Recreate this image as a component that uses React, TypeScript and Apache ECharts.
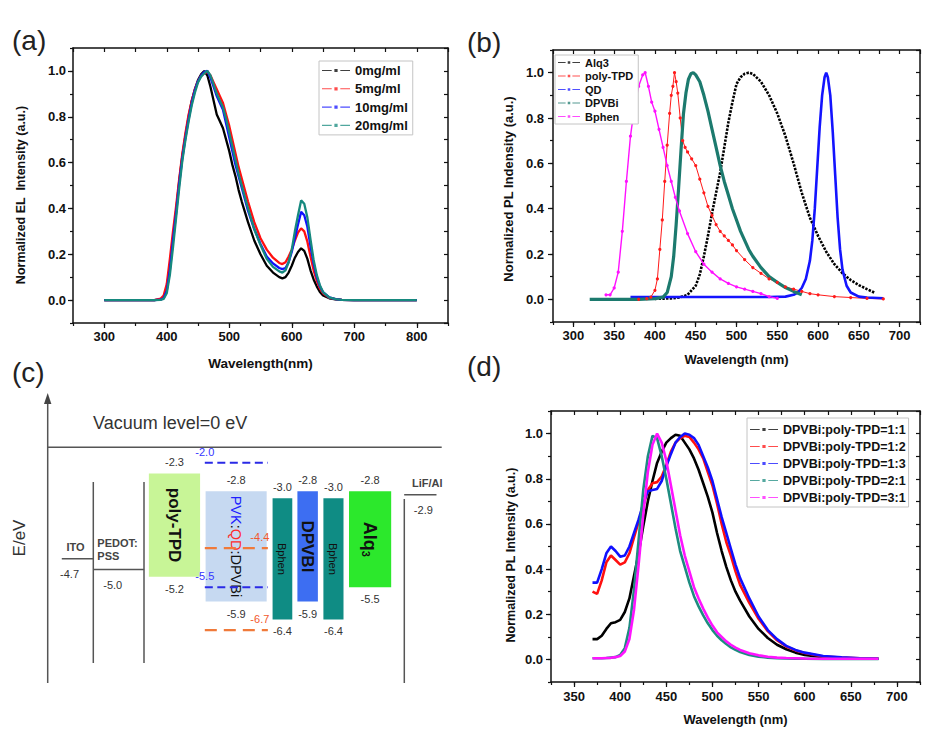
import React, { useEffect, useRef } from 'react';
import * as echarts from 'echarts';

const FONT = 'Liberation Sans, Arial, Helvetica, sans-serif';

// ---------------- (a) EL spectra ----------------
const elNames = ['0mg/ml', '5mg/ml', '10mg/ml', '20mg/ml'];
const elWave = [300, 380, 390, 395, 400, 405, 410, 415, 420, 425, 430, 435, 440, 445, 450, 455, 460, 465, 470, 475, 480, 485, 490, 495, 500, 505, 510, 515, 520, 525, 530, 540, 550, 560, 570, 580, 585, 590, 595, 600, 605, 610, 615, 620, 625, 630, 635, 640, 645, 650, 660, 670, 680, 700, 800];
const el0 = [0, 0, 0.003, 0.01, 0.05, 0.15, 0.27, 0.39, 0.52, 0.63, 0.72, 0.8, 0.87, 0.92, 0.96, 0.985, 1.0, 0.98, 0.93, 0.87, 0.81, 0.78, 0.75, 0.7, 0.65, 0.59, 0.54, 0.48, 0.43, 0.385, 0.34, 0.26, 0.2, 0.15, 0.12, 0.1, 0.095, 0.1, 0.12, 0.15, 0.185, 0.21, 0.226, 0.215, 0.18, 0.13, 0.09, 0.06, 0.035, 0.02, 0.008, 0.003, 0.001, 0, 0];
const el5 = [0, 0, 0.006, 0.02, 0.07, 0.18, 0.3, 0.41, 0.53, 0.64, 0.73, 0.81, 0.87, 0.92, 0.955, 0.98, 0.99, 0.995, 0.98, 0.95, 0.92, 0.89, 0.86, 0.81, 0.76, 0.7, 0.64, 0.58, 0.53, 0.48, 0.43, 0.34, 0.27, 0.22, 0.185, 0.162, 0.157, 0.165, 0.19, 0.22, 0.26, 0.295, 0.313, 0.3, 0.255, 0.19, 0.13, 0.085, 0.05, 0.03, 0.01, 0.004, 0.001, 0, 0];
const el10 = [0, 0, 0.002, 0.008, 0.04, 0.13, 0.26, 0.38, 0.51, 0.62, 0.71, 0.79, 0.86, 0.915, 0.955, 0.98, 0.995, 1.0, 0.97, 0.93, 0.89, 0.86, 0.83, 0.77, 0.71, 0.65, 0.59, 0.54, 0.49, 0.44, 0.39, 0.31, 0.245, 0.19, 0.16, 0.14, 0.135, 0.14, 0.165, 0.21, 0.27, 0.33, 0.385, 0.37, 0.32, 0.235, 0.16, 0.1, 0.06, 0.035, 0.012, 0.004, 0.001, 0, 0];
const el20 = [0, 0, 0.001, 0.005, 0.03, 0.11, 0.23, 0.36, 0.49, 0.61, 0.7, 0.78, 0.85, 0.905, 0.95, 0.975, 0.99, 1.0, 0.98, 0.94, 0.9, 0.87, 0.84, 0.79, 0.73, 0.67, 0.61, 0.55, 0.5, 0.45, 0.4, 0.31, 0.24, 0.18, 0.145, 0.125, 0.12, 0.13, 0.165, 0.22, 0.3, 0.37, 0.435, 0.42, 0.36, 0.265, 0.175, 0.11, 0.065, 0.035, 0.012, 0.004, 0.001, 0, 0];

// ---------------- (b) PL of single materials ----------------
const plNames = ['Alq3', 'poly-TPD', 'QD', 'DPVBi', 'Bphen'];
const alqWave = [400, 420, 430, 440, 450, 455, 460, 465, 470, 475, 480, 485, 490, 495, 500, 505, 510, 515, 520, 530, 540, 550, 560, 570, 580, 590, 600, 610, 620, 630, 640, 650, 660, 670];
const alqPL = [0.002, 0.004, 0.008, 0.02, 0.06, 0.11, 0.19, 0.28, 0.38, 0.47, 0.56, 0.67, 0.78, 0.87, 0.95, 0.98, 0.995, 1.0, 0.995, 0.96, 0.9, 0.82, 0.72, 0.6, 0.47, 0.36, 0.28, 0.21, 0.155, 0.115, 0.085, 0.063, 0.045, 0.028];
const ptWave = [380, 390, 395, 400, 403, 406, 409, 412, 415, 418, 420, 422, 424, 426, 428, 431, 434, 437, 440, 445, 450, 455, 460, 465, 470, 475, 480, 485, 490, 495, 500, 510, 520, 530, 540, 550, 560, 570, 580, 590, 600, 620, 640, 660, 680];
const ptPL = [0, 0.003, 0.01, 0.04, 0.09, 0.22, 0.35, 0.52, 0.68, 0.82, 0.9, 0.94, 1.0, 0.96, 0.91, 0.8, 0.7, 0.67, 0.65, 0.62, 0.59, 0.53, 0.47, 0.41, 0.37, 0.33, 0.3, 0.28, 0.26, 0.24, 0.215, 0.175, 0.14, 0.115, 0.09, 0.075, 0.055, 0.045, 0.035, 0.025, 0.02, 0.012, 0.008, 0.004, 0.002];
const qdWave = [370, 400, 450, 500, 540, 560, 570, 575, 580, 585, 590, 593, 596, 599, 602, 605, 608, 610, 612, 615, 618, 621, 624, 627, 630, 635, 640, 650, 660, 680];
const qdPL = [0.01, 0.01, 0.01, 0.01, 0.01, 0.012, 0.02, 0.03, 0.05, 0.09, 0.17, 0.26, 0.4, 0.58, 0.76, 0.9, 0.98, 1.0, 0.98, 0.9, 0.74, 0.55, 0.36, 0.22, 0.13, 0.06, 0.03, 0.012, 0.008, 0.005];
const dpWave = [320, 380, 400, 410, 415, 420, 423, 426, 429, 432, 435, 438, 441, 444, 447, 450, 455, 460, 465, 470, 475, 480, 485, 490, 495, 500, 505, 510, 515, 520, 530, 540, 550, 560, 570, 580];
const dpPL = [0, 0, 0.003, 0.01, 0.03, 0.1, 0.19, 0.33, 0.49, 0.66, 0.82, 0.91, 0.97, 0.995, 1.0, 0.99, 0.96, 0.9, 0.83, 0.75, 0.67, 0.59, 0.52, 0.46, 0.4, 0.35, 0.3, 0.26, 0.22, 0.19, 0.14, 0.1, 0.075, 0.052, 0.035, 0.02];
const bpWave = [340, 345, 350, 355, 360, 365, 370, 375, 380, 385, 388, 392, 396, 400, 405, 410, 415, 420, 425, 430, 440, 450, 460, 470, 480, 490, 500, 510, 520, 530, 540, 550];
const bpPL = [0.02, 0.02, 0.05, 0.12, 0.3, 0.52, 0.72, 0.85, 0.94, 0.99, 1.0, 0.94, 0.87, 0.83, 0.75, 0.67, 0.59, 0.52, 0.45, 0.39, 0.29, 0.21, 0.155, 0.12, 0.09, 0.07, 0.055, 0.045, 0.035, 0.025, 0.012, 0.004];

// ---------------- (c) energy levels (eV) ----------------
const layerNames = ['poly-TPD', 'PVK:QD:DPVBi', 'Bphen', 'DPVBI', 'Bphen', 'Alq3'];
const layerLumo = [-2.3, -2.8, -3.0, -2.8, -3.0, -2.8];
const layerHomo = [-5.2, -5.9, -6.4, -5.9, -6.4, -5.5];
const pvkLevels = [-2.0, -5.5];
const qdLevels = [-4.4, -6.7];
const electrodeNames = ['ITO', 'PEDOT:PSS', 'LiF/Al'];
const workFunctions = [-4.7, -5.0, -2.9];

// ---------------- (d) PL of blends ----------------
const blendNames = ['DPVBi:poly-TPD=1:1', 'DPVBi:poly-TPD=1:2', 'DPVBi:poly-TPD=1:3', 'DPVBi:poly-TPD=2:1', 'DPVBi:poly-TPD=3:1'];
const blendWave = [370, 375, 380, 385, 390, 395, 400, 405, 410, 415, 420, 425, 430, 435, 440, 445, 450, 455, 460, 465, 470, 475, 480, 485, 490, 495, 500, 505, 510, 515, 520, 525, 530, 540, 550, 560, 570, 580, 590, 600, 620, 640, 660, 680];
const blend11 = [0.09, 0.09, 0.105, 0.135, 0.16, 0.165, 0.175, 0.21, 0.27, 0.37, 0.47, 0.59, 0.7, 0.79, 0.87, 0.92, 0.96, 0.98, 0.995, 0.99, 0.96, 0.93, 0.89, 0.84, 0.78, 0.72, 0.65, 0.56, 0.48, 0.41, 0.35, 0.3, 0.26, 0.19, 0.135, 0.095, 0.065, 0.045, 0.03, 0.02, 0.01, 0.006, 0.004, 0.003];
const blend12 = [0.3, 0.29, 0.35, 0.43, 0.46, 0.44, 0.42, 0.43, 0.47, 0.54, 0.61, 0.68, 0.75, 0.78, 0.785, 0.81, 0.86, 0.92, 0.96, 0.98, 0.99, 0.985, 0.96, 0.93, 0.89, 0.83, 0.77, 0.69, 0.6, 0.52, 0.46, 0.39, 0.33, 0.25, 0.18, 0.125, 0.085, 0.057, 0.04, 0.028, 0.013, 0.008, 0.005, 0.003];
const blend13 = [0.34, 0.34, 0.4, 0.47, 0.5, 0.48, 0.455, 0.46, 0.5, 0.56, 0.62, 0.69, 0.745, 0.75, 0.755, 0.79, 0.855, 0.91, 0.96, 0.985, 1.0, 0.995, 0.98, 0.95, 0.9, 0.85, 0.79, 0.71, 0.63, 0.56, 0.49, 0.42, 0.36, 0.27, 0.19, 0.13, 0.09, 0.06, 0.042, 0.03, 0.015, 0.009, 0.005, 0.003];
const blend21 = [0.005, 0.005, 0.005, 0.006, 0.008, 0.01, 0.02, 0.05, 0.14, 0.31, 0.53, 0.75, 0.9, 0.99, 0.98, 0.9, 0.8, 0.69, 0.58, 0.48, 0.41, 0.34, 0.28, 0.235, 0.195, 0.16, 0.13, 0.105, 0.085, 0.068, 0.053, 0.042, 0.033, 0.02, 0.012, 0.008, 0.005, 0.004, 0.003, 0.003, 0.002, 0.002, 0.002, 0.002];
const blend31 = [0.005, 0.005, 0.005, 0.006, 0.007, 0.01, 0.015, 0.035, 0.09, 0.22, 0.42, 0.64, 0.83, 0.95, 1.0, 0.96, 0.88, 0.77, 0.66, 0.55, 0.46, 0.39, 0.32, 0.27, 0.225, 0.185, 0.15, 0.12, 0.1, 0.08, 0.065, 0.052, 0.042, 0.027, 0.018, 0.012, 0.008, 0.006, 0.005, 0.004, 0.003, 0.003, 0.003, 0.003];

// ---------------- layout / style (not data) ----------------
const layerSpan = [[25.6, 38.6], [40, 55.5], [57, 62], [63.3, 68.5], [69.9, 75], [76.4, 87.1]];
const layerFill = ['#c8f597', '#c6d9f1', '#0f8c84', '#3d6ef2', '#0f8c84', '#2ce82c'];
const layerNameSize = [17, 14.5, 11, 17, 11, 18];
const layerNameWeight = ['bold', 'normal', 'normal', 'bold', 'normal', 'bold'];
const dashSpan = [39.8, 55.8];
const electrodeSpan = [[3.5, 11.5], [11.5, 24.4], [90.4, 98.6]];
const electrodeValueDx = [-8, -6, 3];
const electrodeNameDx = [-2, 0, 7];

const pairs = (w: number[], v: number[]) => w.map((x, i) => [x, v[i]]);
const steps = (a: number, b: number, s: number) => {
  const r: number[] = [];
  for (let v = a; v <= b + 1e-9; v += s) r.push(+v.toFixed(6));
  return r;
};

type Spec = {
  min: number; max: number; interval: number; majors: number[]; digits: number;
  fontSize: number; margin: number; name: string; nameGap: number; nameSize: number; nameShift?: number;
};

function gridAxes(g: number, xs: Spec, ys: Spec) {
  const axisLine = { show: true, onZero: false, lineStyle: { color: '#111', width: 1.5 } };
  const tickStyle = { color: '#111', width: 1.2 };
  const isMajor = (m: number[], v: number) => m.some((t) => Math.abs(t - v) < 1e-6);
  const label = (s: Spec) => ({
    show: true, customValues: s.majors, fontFamily: FONT, fontWeight: 'bold', fontSize: s.fontSize,
    color: '#111', margin: s.margin,
    formatter: (v: number) => (isMajor(s.majors, v) ? v.toFixed(s.digits) : ''),
  });
  const nameStyle = (s: Spec) => ({
    fontFamily: FONT, fontWeight: 'bold', fontSize: s.nameSize, color: '#111',
    padding: s.nameShift ? [0, 2 * s.nameShift, 0, 0] : 0,
  });
  const base = (s: Spec) => ({ type: 'value', gridIndex: g, min: s.min, max: s.max, interval: s.interval, splitLine: { show: false } });
  const xAxis = [
    {
      ...base(xs), position: 'bottom', axisLine,
      axisTick: { show: true, inside: false, length: 5, customValues: xs.majors, lineStyle: tickStyle },
      axisLabel: label(xs), name: xs.name, nameLocation: 'middle', nameGap: xs.nameGap, nameTextStyle: nameStyle(xs),
    },
    { ...base(xs), position: 'bottom', axisLine: { show: false, onZero: false }, axisTick: { show: true, length: 3, lineStyle: tickStyle }, axisLabel: { show: false } },
    { ...base(xs), position: 'top', axisLine, axisTick: { show: true, inside: true, length: 4, lineStyle: tickStyle }, axisLabel: { show: false } },
  ];
  const yAxis = [
    {
      ...base(ys), position: 'left', axisLine,
      axisTick: { show: true, inside: false, length: 5, customValues: ys.majors, lineStyle: tickStyle },
      axisLabel: label(ys), name: ys.name, nameLocation: 'middle', nameGap: ys.nameGap, nameRotate: 90, nameTextStyle: nameStyle(ys),
    },
    { ...base(ys), position: 'left', axisLine: { show: false, onZero: false }, axisTick: { show: true, length: 3, lineStyle: tickStyle }, axisLabel: { show: false } },
    { ...base(ys), position: 'right', axisLine, axisTick: { show: true, inside: true, length: 4, lineStyle: tickStyle }, axisLabel: { show: false } },
  ];
  return { xAxis, yAxis };
}

const yMajors = steps(0, 1, 0.2);
const yBase = { min: -0.1, max: 1.1, interval: 0.1, majors: yMajors, digits: 1, fontSize: 13, nameSize: 12.5 };

const axA = gridAxes(
  0,
  { min: 250, max: 850, interval: 50, majors: steps(300, 800, 100), digits: 0, fontSize: 13, margin: 7, name: 'Wavelength(nm)', nameGap: 33, nameSize: 13.5 },
  { ...yBase, margin: 7, name: 'Normalized EL  Intensity (a.u.)', nameGap: 46, nameShift: 9.5 }
);
const axB = gridAxes(
  1,
  { min: 275, max: 725, interval: 25, majors: steps(300, 700, 50), digits: 0, fontSize: 13, margin: 7, name: 'Wavelength (nm)', nameGap: 31, nameSize: 13 },
  { ...yBase, margin: 9, name: 'Normalized PL Indensity (a.u.)', nameGap: 38, nameSize: 13, nameShift: 3 }
);
const axD = gridAxes(
  3,
  { min: 325, max: 725, interval: 25, majors: steps(350, 700, 50), digits: 0, fontSize: 13, margin: 8, name: 'Wavelength (nm)', nameGap: 31, nameSize: 13 },
  { ...yBase, margin: 8, name: 'Normalized PL Intensity (a.u.)', nameGap: 34, nameShift: 8.5 }
);

// axis indices: a 0..2, b 3..5, c 6, d 7..9
const legendIcon = 'path://M0,1h9v1h-9z M11.5,0h3v3h-3z M17,1h9v1h-9z';

function legendBox(names: string[], left: number, top: number, fontSize: number, gap: number, itemWidth: number, padding: number[]) {
  return {
    data: names, orient: 'vertical', left, top, padding, itemGap: gap, itemWidth, itemHeight: 8,
    icon: legendIcon, itemStyle: { opacity: 0.75 }, selectedMode: false,
    borderColor: '#c4c4c4', borderWidth: 1, backgroundColor: '#fff', borderRadius: 0,
    textStyle: { fontFamily: FONT, fontWeight: 'bold', fontSize, color: '#111', padding: [0, 0, 0, 0] },
  };
}

function lineSeries(name: string, xi: number, data: number[][], color: string, width: number, extra: any = {}) {
  return {
    type: 'line', name, xAxisIndex: xi, yAxisIndex: xi, data, color,
    showSymbol: false, symbol: 'circle', symbolSize: 3, silent: true,
    lineStyle: { color, width }, itemStyle: { color }, ...extra,
  };
}

// ---------------- (c) renderers ----------------
function t(x: number, y: number, text: string, extra: any = {}, rotation = 0) {
  const st = {
    text, fontFamily: FONT, fontSize: 11, fill: '#333', align: 'center', verticalAlign: 'middle',
    textAlign: 'center', textVerticalAlign: 'middle', ...extra,
  };
  if (st.align !== 'center') st.textAlign = st.align;
  if (st.verticalAlign !== 'middle') st.textVerticalAlign = st.verticalAlign;
  return { type: 'text', x, y, rotation, style: st };
}

function richName(name: string) {
  if (name === 'PVK:QD:DPVBi') return '{b|PVK}:{r|QD}:DPVBi';
  if (name === 'Alq3') return 'Alq{s|3}';
  return name;
}

function renderLayer(params: any, api: any) {
  const i = params.dataIndex;
  const p0 = api.coord([api.value(0), api.value(2)]);
  const p1 = api.coord([api.value(1), api.value(3)]);
  const cx = (p0[0] + p1[0]) / 2;
  const cy = (p0[1] + p1[1]) / 2;
  const size = layerNameSize[i];
  return {
    type: 'group',
    children: [
      { type: 'rect', shape: { x: p0[0], y: p0[1], width: p1[0] - p0[0], height: p1[1] - p0[1] }, style: { fill: layerFill[i] } },
      t(cx, p0[1] - 11, api.value(2).toFixed(1)),
      t(cx, p1[1] + 12, api.value(3).toFixed(1)),
      t(cx, cy, richName(layerNames[i]), {
        fontSize: size, fontWeight: layerNameWeight[i], fill: '#111',
        rich: {
          b: { fill: '#2020ff', fontSize: size, fontFamily: FONT },
          r: { fill: '#ff2a2a', fontSize: size, fontFamily: FONT },
          s: { fill: '#111', fontSize: 11, fontWeight: 'bold', fontFamily: FONT, padding: [8, 0, 0, 0] },
        },
      }, -Math.PI / 2),
    ],
  };
}

function renderLevel(params: any, api: any) {
  const kind = api.value(3);
  const p0 = api.coord([api.value(0), api.value(2)]);
  const p1 = api.coord([api.value(1), api.value(2)]);
  const blue = kind === 0;
  const color = blue ? '#2a2ae6' : '#f07a3a';
  const labelColor = blue ? '#3535ff' : '#f2582c';
  const lx = blue ? p0[0] : p1[0] - 8;
  return {
    type: 'group',
    children: [
      {
        type: 'line', shape: { x1: p0[0], y1: p0[1], x2: p1[0], y2: p1[1] },
        style: { stroke: color, lineWidth: blue ? 2 : 2.2, lineDash: blue ? [8, 4.5] : [12, 7] },
      },
      t(lx, p0[1] - 11, api.value(2).toFixed(1), { fill: labelColor }),
    ],
  };
}

function renderElectrode(params: any, api: any) {
  const i = params.dataIndex;
  const p0 = api.coord([api.value(0), api.value(2)]);
  const p1 = api.coord([api.value(1), api.value(2)]);
  const cx = (p0[0] + p1[0]) / 2;
  const name = electrodeNames[i];
  const nameEl = name === 'PEDOT:PSS'
    ? t(p0[0] + 4, p0[1] - 7, 'PEDOT:\nPSS', { align: 'left', verticalAlign: 'bottom', fontWeight: 'bold', fill: '#444', lineHeight: 13 })
    : t(cx + electrodeNameDx[i], p0[1] - 12, name, { fontWeight: 'bold', fill: '#444' });
  return {
    type: 'group',
    children: [
      { type: 'line', shape: { x1: p0[0], y1: p0[1], x2: p1[0], y2: p1[1] }, style: { stroke: '#555', lineWidth: 1.5 } },
      nameEl,
      t(cx + electrodeValueDx[i], p0[1] + 15, api.value(2).toFixed(1)),
    ],
  };
}

function buildOption() {
  const grids = [
    { left: 73, top: 48, width: 375, height: 275 },
    { left: 553, top: 50, width: 367, height: 272 },
    { left: 48, top: 448.5, width: 394, height: 213.6 },
    { left: 551, top: 411, width: 369, height: 271 },
  ];
  const xAxis = [
    ...axA.xAxis, ...axB.xAxis,
    { type: 'value', gridIndex: 2, min: 0, max: 100, show: false },
    ...axD.xAxis,
  ];
  const yAxis = [
    ...axA.yAxis, ...axB.yAxis,
    { type: 'value', gridIndex: 2, min: -7.6, max: -1.6, show: false },
    ...axD.yAxis,
  ];

  const elColors = ['#000000', '#ff1010', '#1010ff', '#16897e'];
  const elData = [el0, el5, el10, el20];
  const plColors = ['#000000', '#ff1a1a', '#1414ff', '#1c7a6e', '#ff10ff'];
  const blendColors = ['#000000', '#ff1010', '#1010ff', '#1e8c80', '#ff14ff'];
  const blendData = [blend11, blend12, blend13, blend21, blend31];

  const series: any[] = [];
  elNames.forEach((n, i) => series.push(lineSeries(n, 0, pairs(elWave, elData[i]), elColors[i], 2.3)));

  series.push(lineSeries(plNames[0], 3, pairs(alqWave, alqPL), plColors[0], 2.6, { lineStyle: { color: plColors[0], width: 2.6, type: [2.4, 1.3] } }));
  series.push(lineSeries(plNames[1], 3, pairs(ptWave, ptPL), plColors[1], 1, { showSymbol: true, symbolSize: 3.2 }));
  series.push(lineSeries(plNames[2], 3, pairs(qdWave, qdPL), plColors[2], 2.6));
  series.push(lineSeries(plNames[3], 3, pairs(dpWave, dpPL), plColors[3], 3.2));
  series.push(lineSeries(plNames[4], 3, pairs(bpWave, bpPL), plColors[4], 1.4, { showSymbol: true, symbolSize: 3.2 }));

  blendNames.forEach((n, i) => series.push(lineSeries(n, 7, pairs(blendWave, blendData[i]), blendColors[i], 2.6)));

  series.push({
    type: 'custom', name: 'layers', xAxisIndex: 6, yAxisIndex: 6, silent: true,
    data: layerNames.map((_, i) => [layerSpan[i][0], layerSpan[i][1], layerLumo[i], layerHomo[i]]),
    renderItem: renderLayer,
  });
  series.push({
    type: 'custom', name: 'levels', xAxisIndex: 6, yAxisIndex: 6, silent: true, z: 3,
    data: [
      ...pvkLevels.map((e) => [dashSpan[0], dashSpan[1], e, 0]),
      ...qdLevels.map((e) => [dashSpan[0], dashSpan[1], e, 1]),
    ],
    renderItem: renderLevel,
  });
  series.push({
    type: 'custom', name: 'electrodes', xAxisIndex: 6, yAxisIndex: 6, silent: true,
    data: electrodeNames.map((_, i) => [electrodeSpan[i][0], electrodeSpan[i][1], workFunctions[i]]),
    renderItem: renderElectrode,
  });

  const panelLabel = (x: number, y: number, text: string) => ({
    type: 'text', x, y,
    style: { text, fontFamily: FONT, fontSize: 28, fill: '#222', textAlign: 'left', textVerticalAlign: 'middle', align: 'left', verticalAlign: 'middle' },
  });
  const gl = (x1: number, y1: number, x2: number, y2: number) => ({
    type: 'line', shape: { x1, y1, x2, y2 }, style: { stroke: '#555', lineWidth: 1.5 },
  });

  const graphic = [
    panelLabel(12, 40, '(a)'),
    panelLabel(467, 42, '(b)'),
    panelLabel(12, 372, '(c)'),
    panelLabel(467, 366, '(d)'),
    gl(47.7, 683, 47.7, 400),
    { type: 'polygon', shape: { points: [[47.7, 393], [44, 404], [51.4, 404]] }, style: { fill: '#444' } },
    gl(47.7, 447.3, 441.7, 447.3),
    {
      type: 'text', x: 93, y: 423,
      style: { text: 'Vacuum level=0 eV', fontFamily: FONT, fontSize: 18, fill: '#333', textAlign: 'left', textVerticalAlign: 'middle', align: 'left', verticalAlign: 'middle' },
    },
    {
      type: 'text', x: 19, y: 538, rotation: Math.PI / 2,
      style: { text: 'E/eV', fontFamily: FONT, fontSize: 17, fill: '#333', textAlign: 'center', textVerticalAlign: 'middle', align: 'center', verticalAlign: 'middle' },
    },
    gl(93.3, 482, 93.3, 663),
    gl(144, 482, 144, 663),
    gl(404.3, 499, 404.3, 683),
  ];

  return {
    animation: false,
    backgroundColor: '#ffffff',
    textStyle: { fontFamily: FONT },
    grid: grids,
    xAxis,
    yAxis,
    legend: [
      legendBox(elNames, 319, 61, 13, 5.3, 28, [3, 5, 3, 3]),
      legendBox(plNames, 555, 55, 11, 2.5, 22, [2, 5, 2, 3]),
      legendBox(blendNames, 747, 418, 12.5, 4, 28, [5, 3, 3, 3]),
    ],
    series,
    graphic,
  };
}

export default function App() {
  const ref = useRef<HTMLDivElement>(null);
  useEffect(() => {
    if (!ref.current) return;
    const chart = echarts.init(ref.current, undefined, { renderer: 'svg' });
    chart.setOption(buildOption() as any);
    return () => chart.dispose();
  }, []);
  return (
    <div
      ref={ref}
      style={{ position: 'fixed', left: 0, top: 0, width: 929, height: 742, background: '#fff' }}
    />
  );
}
